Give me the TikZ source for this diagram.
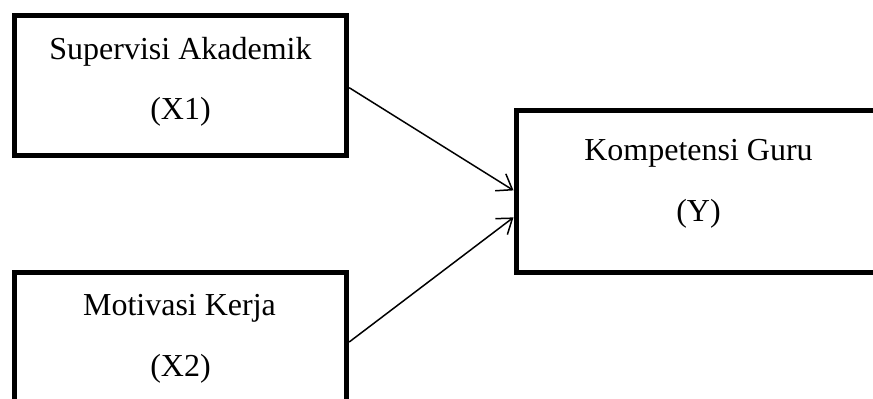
\documentclass[tikz,border=0pt]{standalone}
\usepackage{fontspec}
\setmainfont{Liberation Serif}
\usetikzlibrary{arrows.meta}
\begin{document}
\begin{tikzpicture}[x=1pt,y=1pt,
  varbox/.style={draw=black,line width=5pt,rectangle,inner sep=0pt,fill=white},
  lbl/.style={anchor=base,inner sep=0pt,font=\fontsize{32}{38}\selectfont},
  link/.style={draw=black,line width=1.5pt,-{Straight Barb[length=14pt,width=20pt,line width=1.5pt]}}]
\useasboundingbox (0,0) rectangle (873,399);
\begin{scope}
\clip (0,0) rectangle (873,399);
\node[varbox,minimum width=332.4pt,minimum height=140pt] (b1) at (180.5,313.3) {};
\node[varbox,minimum width=332.4pt,minimum height=138pt] (b2) at (180.5,57) {};
\node[varbox,minimum width=365pt,minimum height=162.2pt] (y) at (698.5,207.6) {};
\end{scope}
\node[lbl] (t1a) at (180.5,339) {Supervisi Akademik};
\node[lbl] (t1b) at (180.5,279) {(X1)};
\node[lbl] (t2a) at (179.5,83) {Motivasi Kerja};
\node[lbl] (t2b) at (180.5,22) {(X2)};
\node[lbl] (tya) at (698.5,238) {Kompetensi Guru};
\node[lbl] (tyb) at (698.5,177) {(Y)};
\draw[link] ([yshift=-2pt]b1.east) -- ([yshift=1pt]y.west);
\draw[link] (b2.east) -- ([yshift=-26pt]y.west);
\end{tikzpicture}
\end{document}
